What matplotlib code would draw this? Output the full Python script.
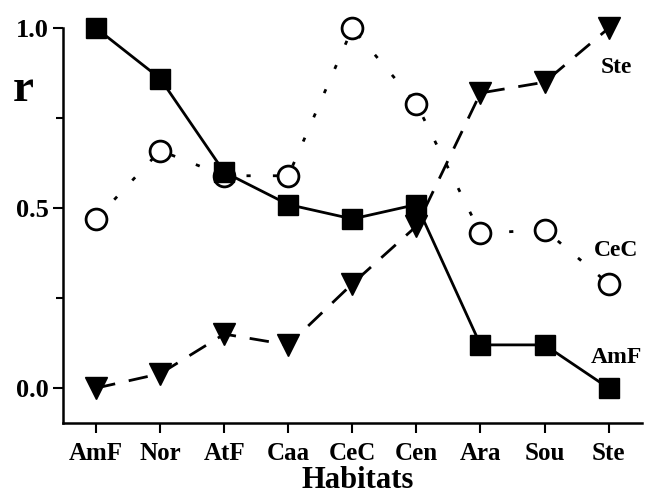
import matplotlib.pyplot as plt

habitats = ['AmF', 'Nor', 'AtF', 'Caa', 'CeC', 'Cen', 'Ara', 'Sou', 'Ste']
amf = [1.0, 0.86, 0.60, 0.51, 0.47, 0.51, 0.12, 0.12, 0.0]
cec = [0.47, 0.66, 0.59, 0.59, 1.0, 0.79, 0.43, 0.44, 0.29]
ste = [0.0, 0.04, 0.15, 0.12, 0.29, 0.45, 0.82, 0.85, 1.0]

plt.rcParams['font.family'] = 'Liberation Serif'
plt.rcParams['font.weight'] = 'bold'

fig = plt.figure(figsize=(6.55, 4.95), dpi=100)
ax = fig.add_axes([0.096, 0.1455, 0.884, 0.7975])

x = range(len(habitats))
ax.plot(x, ste, color='black', lw=2, dashes=(7, 5), marker='v', ms=16,
        mfc='black', mec='black', zorder=2, clip_on=False)
ax.plot(x, cec, color='black', lw=2, dashes=(1.5, 8), marker='o', ms=15,
        mfc='white', mec='black', mew=2, zorder=3, clip_on=False)
ax.plot(x, amf, color='black', lw=2, marker='s', ms=14,
        mfc='black', mec='black', zorder=4, clip_on=False)

ax.text(8.12, 0.89, 'Ste', fontsize=17, fontweight='bold', ha='center', va='center')
ax.text(8.12, 0.383, 'CeC', fontsize=17, fontweight='bold', ha='center', va='center')
ax.text(8.12, 0.086, 'AmF', fontsize=17, fontweight='bold', ha='center', va='center')

ax.set_xlim(-0.52, 8.52)
ax.set_ylim(-0.097, 1.0)
ax.set_xticks(list(x))
ax.set_xticklabels(habitats, fontsize=18, fontweight='bold')
ax.set_yticks([0.0, 0.5, 1.0])
ax.set_yticklabels(['0.0', '0.5', '1.0'], fontsize=19, fontweight='bold')
ax.set_yticks([0.25, 0.75], minor=True)
ax.tick_params(which='major', direction='out', length=7, width=1.5, pad=3)
ax.tick_params(axis='x', which='major', pad=7)
ax.tick_params(which='minor', direction='out', length=5, width=1.5)
for s in ['top', 'right']:
    ax.spines[s].set_visible(False)
for s in ['left', 'bottom']:
    ax.spines[s].set_linewidth(1.8)

ax.set_xlabel('Habitats', fontsize=22, fontweight='bold', labelpad=0)
ax.xaxis.set_label_coords(0.51, -0.108, transform=ax.transAxes)
ax.xaxis.label.set_va('top')
ax.set_ylabel('r', fontsize=34, fontweight='bold', rotation=0, va='center', ha='center')
ax.yaxis.set_label_coords(-0.069, 0.843)

fig.savefig('out.png', dpi=100)
